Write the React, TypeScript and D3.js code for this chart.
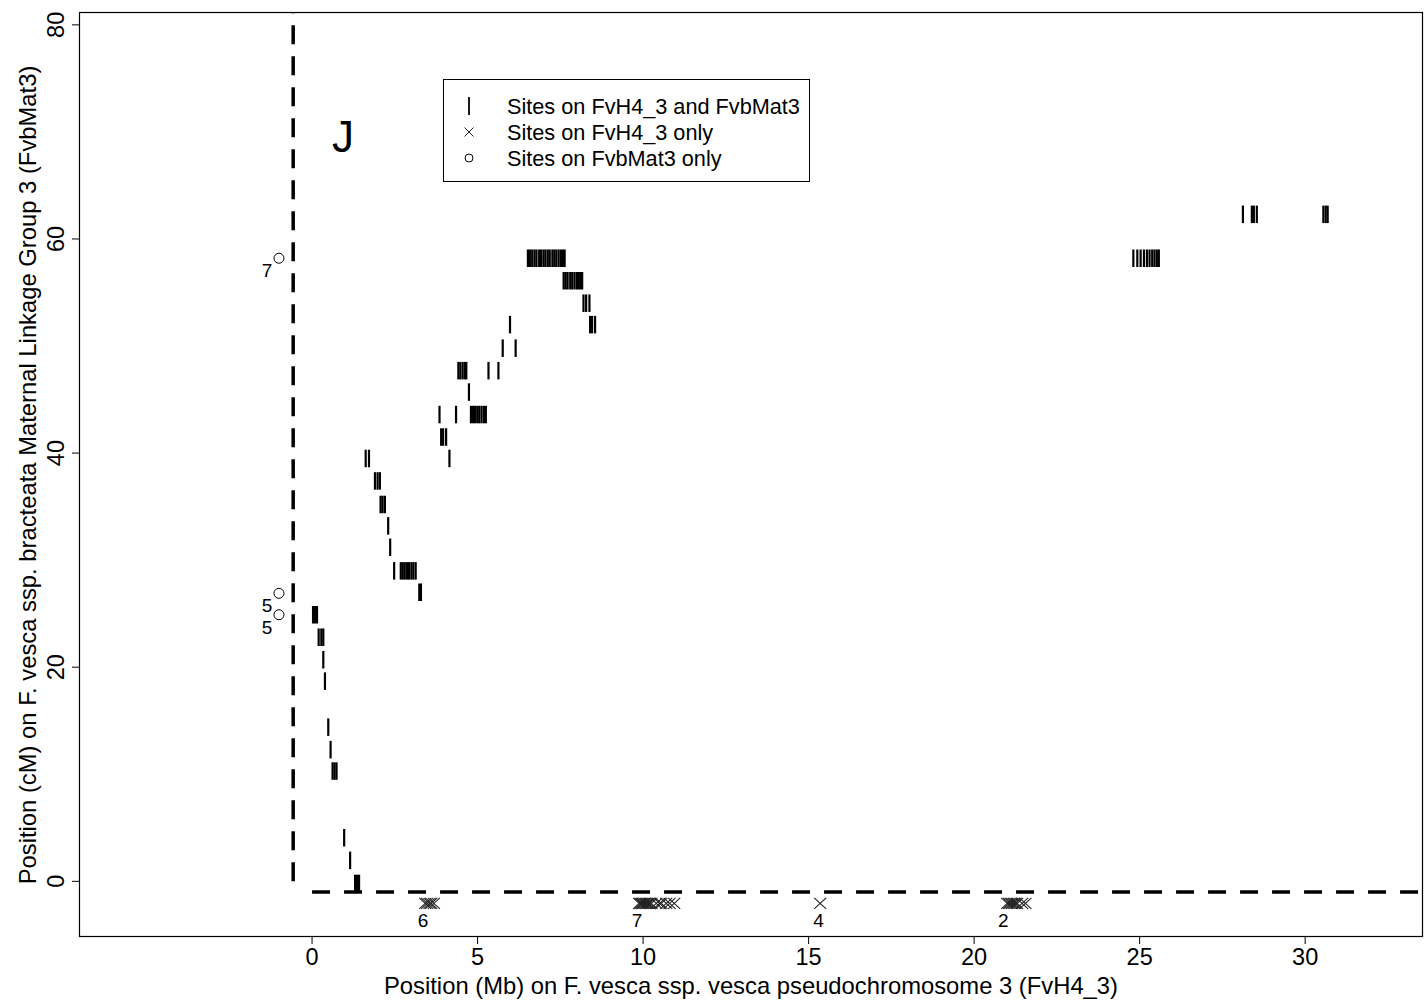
import React from "react";
import * as d3 from "d3";

// Sites present on both FvH4_3 and FvbMat3: [Mb, cM]
const sharedSites: [number, number][] = [
  [28.12, 62.3], [28.39, 62.3], [28.45, 62.3], [28.54, 62.3], [30.55, 62.3], [30.62, 62.3], [30.68, 62.3],
  [24.81, 58.2], [24.93, 58.2], [25.03, 58.2], [25.13, 58.2], [25.22, 58.2], [25.3, 58.2], [25.38, 58.2], [25.45, 58.2], [25.52, 58.2], [25.58, 58.2],
  [6.52, 58.2], [6.58, 58.2], [6.65, 58.2], [6.72, 58.2], [6.78, 58.2], [6.86, 58.2], [6.92, 58.2], [6.99, 58.2], [7.05, 58.2], [7.12, 58.2],
  [7.18, 58.2], [7.26, 58.2], [7.32, 58.2], [7.38, 58.2], [7.45, 58.2], [7.52, 58.2], [7.58, 58.2], [7.63, 58.2],
  [7.6, 56.1], [7.66, 56.1], [7.72, 56.1], [7.8, 56.1], [7.86, 56.1], [7.93, 56.1], [8.0, 56.1], [8.06, 56.1], [8.12, 56.1], [8.16, 56.1],
  [8.2, 54.0], [8.28, 54.0], [8.38, 54.0],
  [5.98, 52.0], [8.4, 52.0], [8.46, 52.0], [8.55, 52.0],
  [5.76, 49.8], [6.15, 49.8],
  [4.42, 47.7], [4.48, 47.7], [4.55, 47.7], [4.62, 47.7], [4.66, 47.7], [5.33, 47.7], [5.63, 47.7],
  [4.74, 45.7],
  [3.85, 43.6], [4.35, 43.6], [4.8, 43.6], [4.86, 43.6], [4.92, 43.6], [4.99, 43.6], [5.05, 43.6], [5.12, 43.6], [5.19, 43.6], [5.25, 43.6],
  [3.9, 41.5], [3.96, 41.5], [4.05, 41.5],
  [1.62, 39.5], [1.72, 39.5], [4.15, 39.5],
  [1.9, 37.4], [1.98, 37.4], [2.05, 37.4],
  [2.07, 35.2], [2.13, 35.2], [2.2, 35.2],
  [2.3, 33.2],
  [2.36, 31.2],
  [2.48, 29.0], [2.68, 29.0], [2.74, 29.0], [2.8, 29.0], [2.87, 29.0], [2.93, 29.0], [3.0, 29.0], [3.06, 29.0], [3.13, 29.0],
  [3.24, 27.0], [3.29, 27.0],
  [0.03, 24.9], [0.09, 24.9], [0.15, 24.9],
  [0.2, 22.8], [0.28, 22.8], [0.34, 22.8],
  [0.34, 20.7],
  [0.39, 18.7],
  [0.49, 14.4],
  [0.56, 12.3],
  [0.62, 10.3], [0.68, 10.3], [0.74, 10.3],
  [0.97, 4.07],
  [1.15, 1.96],
  [1.3, -0.2], [1.36, -0.2], [1.42, -0.2],
];

// Sites only on FvH4_3 (Mb), drawn below the map
const fvhOnlyMb: number[] = [
  3.42, 3.48, 3.55, 3.6, 3.68,
  9.88, 9.92, 9.96, 10.0, 10.04, 10.08, 10.12, 10.16, 10.2, 10.25, 10.4, 10.5, 10.55, 10.7, 10.8, 10.94,
  15.35,
  21.0, 21.05, 21.1, 21.15, 21.2, 21.25, 21.3, 21.45, 21.55,
];
const fvhOnlyCm = -2.06;
const fvhGroupLabels: [number, string][] = [[3.35, "6"], [9.82, "7"], [15.3, "4"], [20.88, "2"]];

// Sites only on FvbMat3 (cM), drawn left of the map
const matOnlyCm: number[] = [58.2, 26.9, 24.9];
const matOnlyMb = -1.0;
const matOnlyLabels: string[] = ["7", "5", "5"];

const xTicks = [0, 5, 10, 15, 20, 25, 30];
const yTicks = [0, 20, 40, 60, 80];
const legendItems = ["Sites on FvH4_3 and FvbMat3", "Sites on FvH4_3 only", "Sites on FvbMat3 only"];

const W = 1425, H = 1007;
const L = 79, R = 1423, T = 12, B = 937;
const FONT = "'Liberation Sans', Arial, sans-serif";

export default function App() {
  const x = d3.scaleLinear().domain([-7.04, 33.56]).range([L, R]);
  const y = d3.scaleLinear().domain([-5.2, 81.2]).range([B, T]);
  const barH = 17.5;

  return (
    <svg width={W} height={H} style={{ position: "absolute", left: 0, top: 0, background: "#fff" }} fontFamily={FONT}>
      <rect x={0} y={0} width={W} height={H} fill="#fff" />
      <defs>
        <clipPath id="plotclip"><rect x={L} y={T} width={R - L} height={B - T} /></clipPath>
      </defs>
      <g clipPath="url(#plotclip)">
        {/* dashed boundary lines */}
        <line x1={x(-0.57)} x2={x(-0.57)} y1={y(0)} y2={T} stroke="#000" strokeWidth={3.5} strokeDasharray="19 12" />
        <line x1={x(0)} x2={R} y1={y(-1.0)} y2={y(-1.0)} stroke="#000" strokeWidth={3.5} strokeDasharray="18 14" />
        {/* shared sites */}
        {sharedSites.map(([mb, cm], i) => (
          <line key={"s" + i} x1={x(mb)} x2={x(mb)} y1={y(cm) - barH / 2} y2={y(cm) + barH / 2} stroke="#000" strokeWidth={2.2} />
        ))}
        {/* FvH4_3 only crosses */}
        {fvhOnlyMb.map((mb, i) => {
          const cx = x(mb), cy = y(fvhOnlyCm);
          return (
            <path key={"c" + i} d={`M${cx - 6},${cy - 5.5}L${cx + 6},${cy + 5.5}M${cx - 6},${cy + 5.5}L${cx + 6},${cy - 5.5}`} stroke="#222" strokeWidth={1.1} fill="none" />
          );
        })}
        {fvhGroupLabels.map(([mb, t], i) => (
          <text key={"gl" + i} x={x(mb)} y={y(fvhOnlyCm) + 24} fontSize={19} textAnchor="middle" fill="#000">{t}</text>
        ))}
        {/* FvbMat3 only circles */}
        {matOnlyCm.map((cm, i) => (
          <g key={"o" + i}>
            <circle cx={x(matOnlyMb)} cy={y(cm)} r={5} fill="none" stroke="#000" strokeWidth={1} />
            <text x={x(matOnlyMb) - 12} y={y(cm) + 19} fontSize={19} textAnchor="middle" fill="#000">{matOnlyLabels[i]}</text>
          </g>
        ))}
      </g>
      {/* panel letter */}
      <text x={343} y={152} fontSize={44} textAnchor="middle" fill="#000">J</text>
      {/* legend */}
      <rect x={443.5} y={79.5} width={366} height={102} fill="#fff" stroke="#000" strokeWidth={1} />
      {legendItems.map((t, i) => {
        const cy = 106 + i * 26;
        return (
          <g key={"lg" + i}>
            {i === 0 && <line x1={469} x2={469} y1={cy - 9} y2={cy + 9} stroke="#000" strokeWidth={1.8} />}
            {i === 1 && <path d={`M${469 - 4.5},${cy - 4.5}L${469 + 4.5},${cy + 4.5}M${469 - 4.5},${cy + 4.5}L${469 + 4.5},${cy - 4.5}`} stroke="#222" strokeWidth={1} />}
            {i === 2 && <circle cx={469} cy={cy} r={4} fill="none" stroke="#000" strokeWidth={1} />}
            <text x={507} y={cy + 8} fontSize={21.7} fill="#000">{t}</text>
          </g>
        );
      })}
      {/* frame */}
      <rect x={L + 0.5} y={T + 0.5} width={R - L - 1} height={B - T - 1} fill="none" stroke="#000" strokeWidth={1.2} />
      {/* x axis */}
      {xTicks.map((t) => (
        <g key={"xt" + t}>
          <line x1={x(t)} x2={x(t)} y1={B} y2={B + 7} stroke="#000" strokeWidth={1} />
          <text x={x(t)} y={B + 28} fontSize={23.5} textAnchor="middle" fill="#000">{t}</text>
        </g>
      ))}
      {/* y axis */}
      {yTicks.map((t) => (
        <g key={"yt" + t}>
          <line x1={L - 7} x2={L} y1={y(t)} y2={y(t)} stroke="#000" strokeWidth={1} />
          <text transform={`translate(${L - 15},${y(t)}) rotate(-90)`} fontSize={23.5} textAnchor="middle" fill="#000">{t}</text>
        </g>
      ))}
      <text x={751} y={994} fontSize={23.8} textAnchor="middle" fill="#000">Position (Mb) on F. vesca ssp. vesca pseudochromosome 3 (FvH4_3)</text>
      <text transform={`translate(36,475) rotate(-90)`} fontSize={23.8} textAnchor="middle" fill="#000">Position (cM) on F. vesca ssp. bracteata Maternal Linkage Group 3 (FvbMat3)</text>
    </svg>
  );
}
